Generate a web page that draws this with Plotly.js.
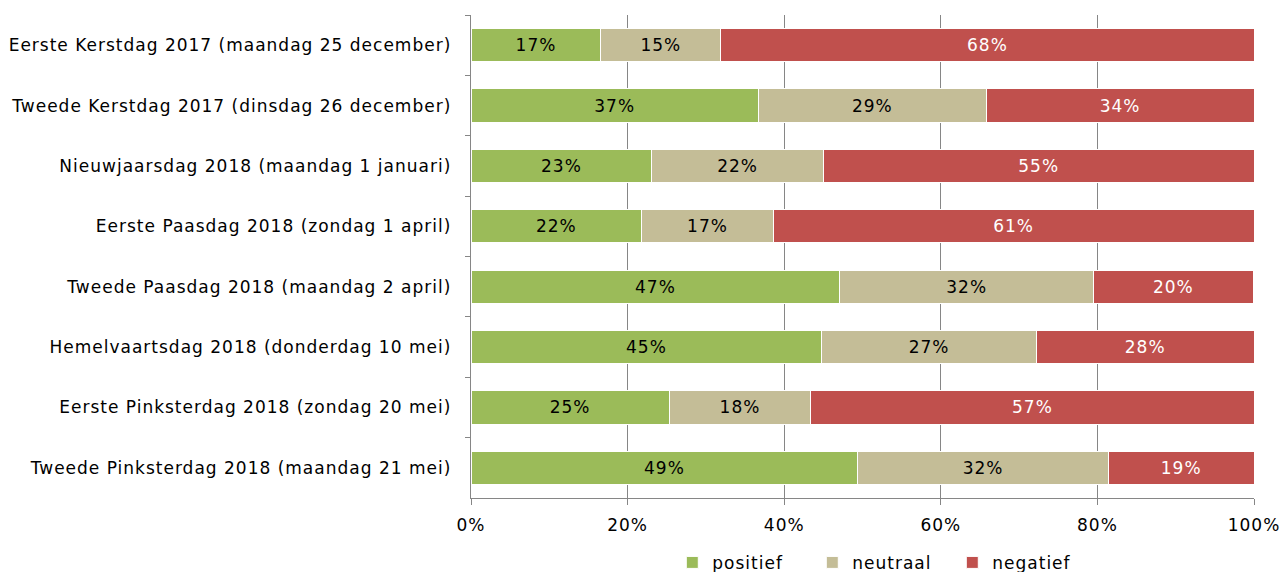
<!DOCTYPE html>
<html><head><meta charset="utf-8">
<script src="https://cdn.plot.ly/plotly-3.0.1.min.js"></script>
<style>html,body{margin:0;padding:0;background:#fff}#c{width:1283px;height:572px}
#c text{letter-spacing:1px}</style>
</head><body><div id="c"></div>
<script>
const categories = [
  "Eerste Kerstdag 2017 (maandag 25 december)",
  "Tweede Kerstdag 2017 (dinsdag 26 december)",
  "Nieuwjaarsdag 2018 (maandag 1 januari)",
  "Eerste Paasdag 2018 (zondag 1 april)",
  "Tweede Paasdag 2018 (maandag 2 april)",
  "Hemelvaartsdag 2018 (donderdag 10 mei)",
  "Eerste Pinksterdag 2018 (zondag 20 mei)",
  "Tweede Pinksterdag 2018 (maandag 21 mei)"
];
const positief = [16.6, 36.7, 23.1, 21.8, 47.1, 44.8, 25.3, 49.4];
const neutraal = [15.3, 29.1, 21.9, 16.8, 32.4, 27.4, 18.1, 32.0];
const negatief = [68.1, 34.2, 55.0, 61.4, 20.4, 27.8, 56.6, 18.6];
const seriesNames = ["positief", "neutraal", "negatief"];
const xTickVals = [0, 20, 40, 60, 80, 100];
const xTickText = ["0%", "20%", "40%", "60%", "80%", "100%"];

const font = "DejaVu Sans, Verdana, sans-serif";
const colors = ["#9BBB59", "#C4BD97", "#C0504D"];
const textColors = ["#000000", "#000000", "#FFFFFF"];
const data = [positief, neutraal, negatief].map((vals, i) => ({
  type: "bar",
  orientation: "h",
  name: seriesNames[i],
  y: categories,
  x: vals,
  marker: {color: colors[i], line: {color: "#FFFFFF", width: 1}},
  texttemplate: "%{x:.0f}%",
  textposition: "inside",
  insidetextanchor: "middle",
  constraintext: "none",
  textfont: {family: font, size: 17, color: textColors[i]},
  hoverinfo: "none"
}));

const layout = {
  width: 1283, height: 572,
  margin: {l: 471, r: 29, t: 15, b: 74, autoexpand: false},
  barmode: "stack",
  bargap: 0.45,
  paper_bgcolor: "#fff", plot_bgcolor: "#fff",
  font: {family: font, size: 17, color: "#000"},
  showlegend: true,
  legend: {orientation: "h", xref: "container", yref: "container", x: 0.524, xanchor: "left",
           y: 0.016, yanchor: "middle", itemwidth: 30, entrywidth: 95, entrywidthmode: "pixels",
           font: {family: font, size: 17, color: "#000"}, traceorder: "normal"},
  xaxis: {
    range: [0, 100], tickvals: xTickVals, ticktext: xTickText,
    showgrid: true, gridcolor: "#868686", gridwidth: 1.3,
    showline: true, linecolor: "#868686", linewidth: 1.3,
    ticks: "outside", ticklen: 6, tickcolor: "#868686",
    zeroline: false, fixedrange: true, ticklabelstandoff: 5,
    tickfont: {family: font, size: 17, color: "#000"}
  },
  yaxis: {
    autorange: "reversed", type: "category",
    showline: true, linecolor: "#868686", linewidth: 1.3,
    ticks: "outside", ticklen: 5, tickcolor: "#868686", tickson: "boundaries",
    showgrid: false, zeroline: false, fixedrange: true, ticklabelstandoff: 15,
    tickfont: {family: font, size: 17, color: "#000"}
  }
};
Plotly.newPlot("c", data, layout, {displayModeBar: false, staticPlot: true});
</script></body></html>
